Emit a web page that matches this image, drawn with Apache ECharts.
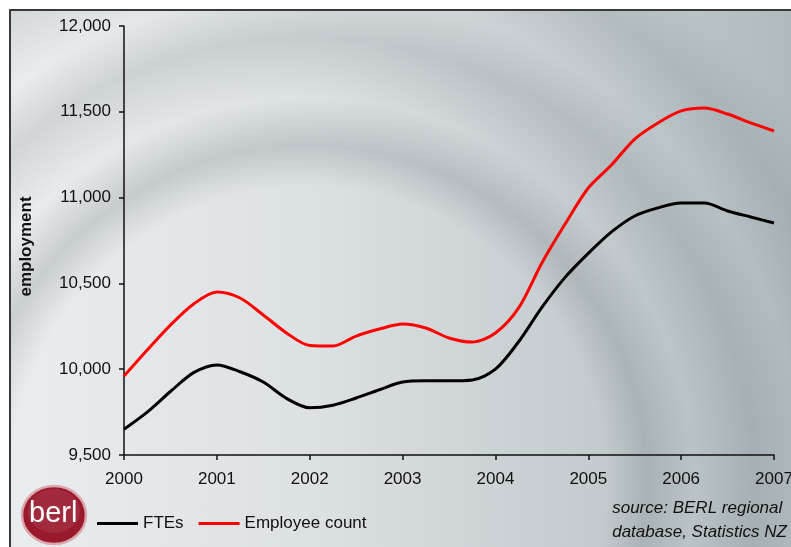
<!DOCTYPE html>
<html>
<head>
<meta charset="utf-8">
<script src="https://cdn.jsdelivr.net/npm/echarts@6/dist/echarts.min.js"></script>
<style>
  html, body { margin: 0; padding: 0; background: #fff; }
  .wrap { position: relative; width: 791px; height: 547px; overflow: hidden; }
  .frame {
    position: absolute; left: 9px; top: 9px; right: -2px; bottom: -2px;
    border-left: 2px solid #3a3a3a; border-top: 2px solid #3a3a3a;
    background:
      radial-gradient(circle at 38% 88%, transparent 0%, transparent 44%,
        rgba(110,120,125,0.26) 50%, transparent 57%,
        rgba(110,120,125,0.2) 66%, transparent 73%,
        rgba(110,120,125,0.18) 82%, transparent 90%),
      linear-gradient(90deg, #eaedef 0%, #dbe0e2 40%, #c3cbce 75%, #b0babe 100%);
  }
  #chart { position: absolute; left: 0; top: 0; width: 791px; height: 547px; }
</style>
</head>
<body>
<div class="wrap">
  <div class="frame"></div>
  <div id="chart"></div>
</div>
<script>
// quarterly points, 2000 Q1 .. 2007 Q1
const quarters = [
  '2000', '2000 Q2', '2000 Q3', '2000 Q4',
  '2001', '2001 Q2', '2001 Q3', '2001 Q4',
  '2002', '2002 Q2', '2002 Q3', '2002 Q4',
  '2003', '2003 Q2', '2003 Q3', '2003 Q4',
  '2004', '2004 Q2', '2004 Q3', '2004 Q4',
  '2005', '2005 Q2', '2005 Q3', '2005 Q4',
  '2006', '2006 Q2', '2006 Q3', '2006 Q4',
  '2007'
];
const ftes = [
  9650, 9750, 9870, 9980,
  10025, 9985, 9925, 9830,
  9775, 9790, 9832, 9880,
  9925, 9932, 9932, 9937,
  10000, 10160, 10360, 10535,
  10675, 10800, 10893, 10940,
  10968, 10968, 10922, 10887,
  10852
];
const employeeCount = [
  9960, 10112, 10257, 10380,
  10450, 10415, 10316, 10211,
  10138, 10135, 10193, 10234,
  10263, 10240, 10182, 10158,
  10211, 10357, 10619, 10846,
  11056, 11190, 11341, 11435,
  11505, 11522, 11487, 11435,
  11388
];
const yTicks = { min: 9500, max: 12000, interval: 500 };

const chart = echarts.init(document.getElementById('chart'));
const font = '"Liberation Sans", Arial, sans-serif';

chart.setOption({
  backgroundColor: 'transparent',
  animation: false,
  textStyle: { fontFamily: font },
  grid: { left: 124, right: 17, top: 26, bottom: 92, outerBoundsMode: 'none', containLabel: false },
  legend: {
    left: 92,
    top: 510,
    itemWidth: 41,
    itemHeight: 3,
    itemGap: 15,
    icon: 'rect',
    textStyle: { color: '#111', fontSize: 17, fontFamily: font },
    data: ['FTEs', 'Employee count']
  },
  xAxis: {
    type: 'category',
    data: quarters,
    boundaryGap: false,
    axisLine: { lineStyle: { color: '#111', width: 1.5 } },
    axisTick: { interval: 3, length: 5, lineStyle: { color: '#111', width: 1.5 } },
    axisLabel: {
      interval: 3,
      margin: 16,
      color: '#111',
      fontSize: 17,
      fontFamily: font,
      formatter: v => v.slice(0, 4)
    },
    splitLine: { show: false }
  },
  yAxis: {
    type: 'value',
    min: yTicks.min,
    max: yTicks.max,
    interval: yTicks.interval,
    name: 'employment',
    nameLocation: 'middle',
    nameGap: 89,
    nameTextStyle: {
      color: '#111', fontSize: 17, fontWeight: 'bold', fontFamily: font,
      padding: [0, 12, 0, 0]
    },
    axisLine: { show: true, lineStyle: { color: '#111', width: 1.5 } },
    axisTick: { show: true, length: 5, lineStyle: { color: '#111', width: 1.5 } },
    axisLabel: {
      margin: 13,
      color: '#111',
      fontSize: 17,
      fontFamily: font,
      formatter: v => v.toLocaleString('en-US')
    },
    splitLine: { show: false }
  },
  series: [
    {
      name: 'FTEs',
      type: 'line',
      data: ftes,
      symbol: 'none',
      smooth: 0.3,
      itemStyle: { color: '#000' },
      lineStyle: { color: '#000', width: 3 }
    },
    {
      name: 'Employee count',
      type: 'line',
      data: employeeCount,
      symbol: 'none',
      smooth: 0.3,
      itemStyle: { color: '#ff0000' },
      lineStyle: { color: '#ff0000', width: 3 }
    }
  ],
  graphic: [
    {
      type: 'ellipse',
      shape: { cx: 54, cy: 515, rx: 32, ry: 29 },
      style: { fill: '#9a1a2d', stroke: '#dba8ae', lineWidth: 2.5 }
    },
    {
      type: 'ellipse',
      shape: { cx: 54, cy: 511, rx: 26, ry: 22 },
      style: { fill: 'rgba(255,255,255,0.08)' }
    },
    {
      type: 'text',
      left: 29,
      top: 499,
      style: { text: 'berl', fill: '#fff', font: '29px "Liberation Sans", Arial, sans-serif' }
    },
    {
      type: 'text',
      right: 4,
      top: 496,
      style: {
        text: 'source: BERL regional\ndatabase, Statistics NZ',
        fill: '#111',
        align: 'right',
        lineHeight: 24,
        font: 'italic 17px "Liberation Sans", Arial, sans-serif'
      }
    }
  ]
});
</script>
</body>
</html>
